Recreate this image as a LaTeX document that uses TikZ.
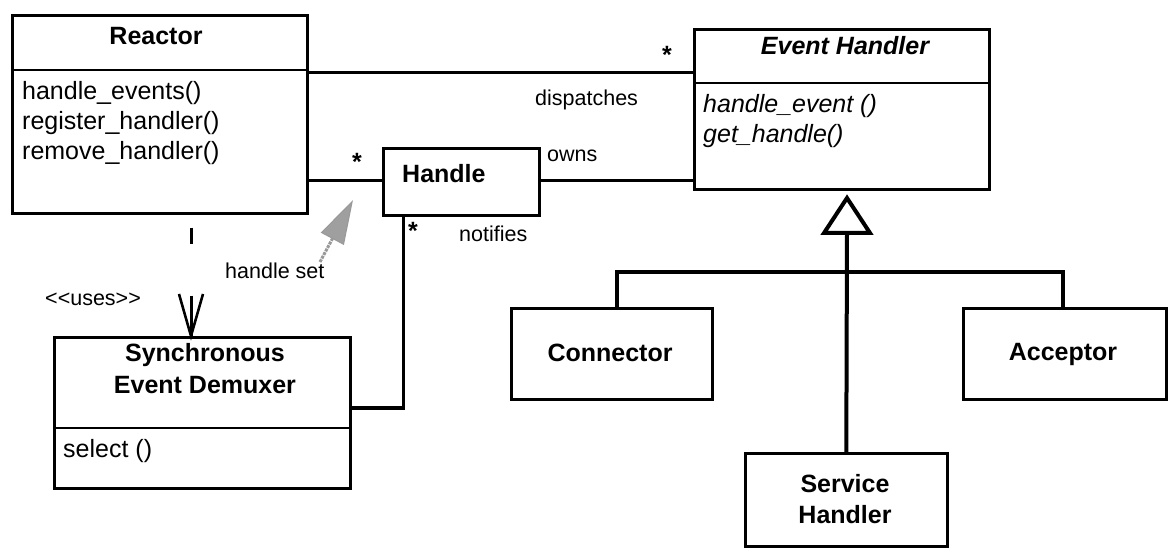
\documentclass[tikz,border=0pt]{standalone}
\usepackage{fontspec}
\setmainfont{Liberation Sans}
\usetikzlibrary{arrows.meta,calc}
\begin{document}
\begin{tikzpicture}[x=1bp,y=-1bp,
  umlbox/.style={draw, line width=2.6bp, inner sep=0pt, anchor=north west},
  divline/.style={line width=2.6bp},
  conn/.style={line width=3bp},
  heavy/.style={line width=4bp},
  big/.style={font=\fontsize{25bp}{30bp}\selectfont, inner sep=0pt},
  bigb/.style={font=\fontsize{25bp}{30bp}\selectfont\bfseries, inner sep=0pt},
  lbl/.style={font=\fontsize{21.5bp}{26bp}\selectfont, inner sep=0pt, anchor=base west},
  star/.style={font=\fontsize{25bp}{30bp}\selectfont\bfseries, inner sep=0pt, anchor=base},
]
\useasboundingbox[fill=white] (0,0) rectangle (1172,556);

% boxes
\node[umlbox, minimum width=295bp, minimum height=198bp] (reactor) at (11,14) {};
\node[umlbox, minimum width=295bp, minimum height=160bp] (eh) at (693,28) {};
\node[umlbox, minimum width=156bp, minimum height=67bp] (handle) at (382,147) {};
\node[umlbox, minimum width=296bp, minimum height=151bp] (sed) at (53,336) {};
\node[umlbox, minimum width=201bp, minimum height=91bp] (connector) at (510,307) {};
\node[umlbox, minimum width=203bp, minimum height=91bp] (acceptor) at (962,307) {};
\node[umlbox, minimum width=202bp, minimum height=93bp] (sh) at (744,452) {};

% dividers
\draw[divline] (reactor.west |- 0,70) -- (reactor.east |- 0,70);
\draw[divline] (eh.west |- 0,83) -- (eh.east |- 0,83);
\draw[divline] (sed.west |- 0,428) -- (sed.east |- 0,428);

% texts
\node[bigb, anchor=base] (reactorT) at (156,45) {Reactor};
\node[big, anchor=base west] (rm1) at (22,100) {handle\_events()};
\node[big, anchor=base west] (rm2) at (22,130) {register\_handler()};
\node[big, anchor=base west] (rm3) at (22,160) {remove\_handler()};

\node[bigb, anchor=base] (ehT) at (845,55) {\itshape Event Handler};
\node[big, anchor=base west] (em1) at (703,113) {\itshape handle\_event ()};
\node[big, anchor=base west] (em2) at (703,143) {\itshape get\_handle()};

\node[bigb, anchor=base west] (handleT) at (402,183) {Handle};

\node[bigb, anchor=base] (sedT1) at (205,362) {Synchronous};
\node[bigb, anchor=base] (sedT2) at (205,393) {Event Demuxer};
\node[big, anchor=base west] (sedM) at (63,457) {select ()};

\node[bigb, anchor=base] (connT) at (610,362) {Connector};
\node[bigb, anchor=base] (accT) at (1063,361) {Acceptor};
\node[bigb, anchor=base] (shT1) at (845,492) {Service};
\node[bigb, anchor=base] (shT2) at (845,523) {Handler};

% labels
\node[lbl] (dispL) at (535,106) {dispatches};
\node[lbl] (ownsL) at (547,162) {owns};
\node[lbl] (notL) at (459,242) {notifies};
\node[lbl] (hsL) at (225,279) {handle set};
\node[lbl] (usesL) at (45,306) {<\kern0pt<uses>\kern0pt>};
\node[star] (s1) at (357,171) {*};
\node[star] (s2) at (667,64) {*};
\node[star] (s3) at (413,240) {*};

% connectors
\draw[conn] (reactor.east |- 0,73) -- (eh.west |- 0,73);
\draw[conn] (reactor.east |- 0,181) -- (handle.west |- 0,181);
\draw[conn] (handle.east |- 0,181) -- (eh.west |- 0,181);
\draw[conn] (handle.south -| 403,0) |- (sed.east |- 0,408);

% uses dependency
\coordinate (usesS) at (reactor.south -| 191,0);
\coordinate (usesE) at (sed.north -| 191,0);
\draw[conn, dash pattern=on 0bp off 13bp on 16bp off 52bp on 100bp] (usesS) -- (usesE);
\draw[line width=2.6bp] ($(usesE)+(-12,-42)$) -- (usesE) -- ++(12,-42);

% handle set arrow
\coordinate (hsS) at (320,262);
\coordinate (hsE) at (353,200);
\draw[gray!80, line width=3bp, densely dotted, -{Triangle[length=44bp,width=26bp,fill=gray!75,line width=1bp]}] (hsS) -- (hsE);

% generalization
\coordinate (genBase) at (847,233);
\draw[heavy] (sh.north) -- (genBase);
\draw[heavy, fill=white, line join=miter] (847,198) -- (870,233) -- (824,233) -- cycle;
\draw[heavy] (connector.north -| 617,0) -- ++(0,-35) -| (acceptor.north -| 1063,0);
\end{tikzpicture}
\end{document}
